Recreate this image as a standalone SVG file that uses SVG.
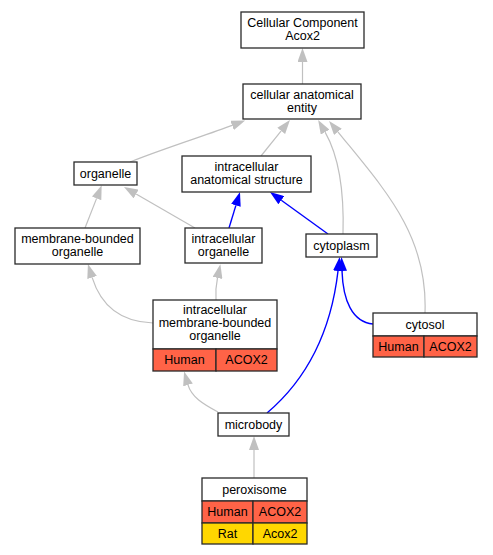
<svg xmlns="http://www.w3.org/2000/svg" width="493" height="555" viewBox="0 0 493 555">
<style>
.box{fill:#fff;stroke:#2a2a2a;stroke-width:1.3}
.hum{fill:#ff6347;stroke:#2a2a2a;stroke-width:1.3}
.rat{fill:#ffd700;stroke:#2a2a2a;stroke-width:1.3}
text{font-family:"Liberation Sans",Arial,sans-serif;font-size:12.5px;text-anchor:middle;fill:#000}
.g{fill:none;stroke:#c0c0c0;stroke-width:1.2}
.b{fill:none;stroke:#0000ff;stroke-width:1.4}
</style>
<defs>
<marker id="ag" markerUnits="userSpaceOnUse" viewBox="0 0 14 10" refX="0" refY="5" markerWidth="14" markerHeight="10" orient="auto"><path d="M0,0 L14,5 L0,10 z" fill="#c0c0c0"/></marker>
<marker id="ab" markerUnits="userSpaceOnUse" viewBox="0 0 14 10" refX="0" refY="5" markerWidth="14" markerHeight="10" orient="auto"><path d="M0,0 L14,5 L0,10 z" fill="#0000ff"/></marker>
</defs>
<rect width="493" height="555" fill="#fff"/>
<g id="connectors">
<path class="g" marker-end="url(#ag)" d="M302.5,84 L302.5,62"/>
<path class="g" marker-end="url(#ag)" d="M130,162 C165,148 207,135 232.1,125.4"/>
<path class="g" marker-end="url(#ag)" d="M261,156 L281.2,130.9"/>
<path class="g" marker-end="url(#ag)" d="M343,234 C344,200 341,160 325.1,132.1"/>
<path class="g" marker-end="url(#ag)" d="M425,313 C428,235 385,190 337.9,131.8"/>
<path class="g" marker-end="url(#ag)" d="M85,228 L96.6,198.4"/>
<path class="g" marker-end="url(#ag)" d="M195,228 L136.1,194"/>
<path class="b" marker-end="url(#ab)" d="M229,228 L235.9,205.4"/>
<path class="b" marker-end="url(#ab)" d="M328,234 L281.3,200.2"/>
<path class="g" marker-end="url(#ag)" d="M153,323 C120,322 101,306 92.1,277.4"/>
<path class="g" marker-end="url(#ag)" d="M216,300 C215.5,292 216,285 217.5,277.9"/>
<path class="g" marker-end="url(#ag)" d="M218,412 C203,404 191.5,397 188,384.9"/>
<path class="b" marker-end="url(#ab)" d="M267,413 C300,385 330,340 338,271"/>
<path class="b" marker-end="url(#ab)" d="M373,324 C352,322 343,300 342,271"/>
<path class="g" marker-end="url(#ag)" d="M254,478 L254,450"/>
</g>
<g id="cc">
<rect class="box" x="241" y="12" width="123" height="36"/>
<text x="302.5" y="27">Cellular Component</text>
<text x="302.5" y="40.3">Acox2</text>
</g>
<g id="cae">
<rect class="box" x="243" y="84" width="118" height="35"/>
<text x="302" y="98.5">cellular anatomical</text>
<text x="302" y="111.7">entity</text>
</g>
<g id="organelle">
<rect class="box" x="74" y="162" width="63" height="23"/>
<text x="105.5" y="177.5">organelle</text>
</g>
<g id="ias">
<rect class="box" x="182" y="156" width="129" height="36"/>
<text x="246.5" y="170.5">intracellular</text>
<text x="246.5" y="184">anatomical structure</text>
</g>
<g id="mbo">
<rect class="box" x="15" y="228" width="125" height="36"/>
<text x="77.5" y="242.5">membrane-bounded</text>
<text x="77.5" y="256">organelle</text>
</g>
<g id="io">
<rect class="box" x="185" y="228" width="77" height="35"/>
<text x="223.5" y="242.5">intracellular</text>
<text x="223.5" y="256">organelle</text>
</g>
<g id="cytoplasm">
<rect class="box" x="306" y="234" width="71" height="23"/>
<text x="341.5" y="249.5">cytoplasm</text>
</g>
<g id="imbo">
<rect class="box" x="153" y="300" width="124" height="49"/>
<rect class="hum" x="153" y="349" width="63" height="22"/>
<rect class="hum" x="216" y="349" width="61" height="22"/>
<text x="215" y="313.7">intracellular</text>
<text x="215" y="327">membrane-bounded</text>
<text x="215" y="340.3">organelle</text>
<text x="184.5" y="364">Human</text>
<text x="246.5" y="364">ACOX2</text>
</g>
<g id="cytosol">
<rect class="box" x="373" y="313" width="104" height="23"/>
<rect class="hum" x="373" y="336" width="51" height="21"/>
<rect class="hum" x="424" y="336" width="53" height="21"/>
<text x="425" y="328.5">cytosol</text>
<text x="398.5" y="351">Human</text>
<text x="450.5" y="351">ACOX2</text>
</g>
<g id="microbody">
<rect class="box" x="218" y="413" width="71" height="23"/>
<text x="253.5" y="428.5">microbody</text>
</g>
<g id="peroxisome">
<rect class="box" x="202" y="478" width="105" height="23"/>
<rect class="hum" x="202" y="501" width="51" height="22"/>
<rect class="hum" x="253" y="501" width="54" height="22"/>
<rect class="rat" x="202" y="523" width="51" height="21"/>
<rect class="rat" x="253" y="523" width="54" height="21"/>
<text x="254.5" y="493.5">peroxisome</text>
<text x="227.5" y="516">Human</text>
<text x="280" y="516">ACOX2</text>
<text x="227.5" y="537.5">Rat</text>
<text x="280" y="537.5">Acox2</text>
</g>
</svg>
